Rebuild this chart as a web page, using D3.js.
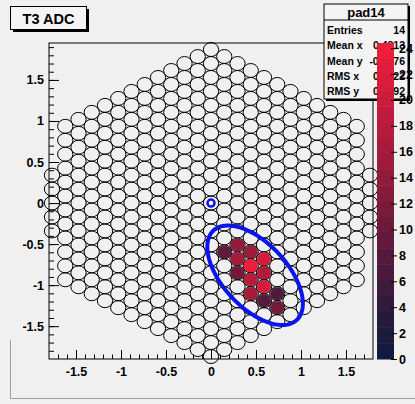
<!DOCTYPE html>
<html>
<head>
<meta charset="utf-8">
<script src="https://cdn.jsdelivr.net/npm/d3@7"></script>
<style>
body { margin: 0; background: #f0f0f0; }
text { font-family: "Liberation Sans", Arial, sans-serif; font-weight: bold; }
</style>
</head>
<body>
<div id="chart-area"></div>
<script>
// camera geometry: half height (in pixel pitches) of each column, columns -12..12
var columnHalfHeight = [2, 5.5, 6, 6.5, 7, 7.5, 8, 8.5, 9, 9.5, 10, 10.5, 11,
                        10.5, 10, 9.5, 9, 8.5, 8, 7.5, 7, 6.5, 6, 5.5, 2];
var pitch = 0.17;

// hit pixels: column index, row (in pitches), ADC value
var hitCol = [2, 1, 2, 3, 4, 3, 2, 4, 3, 4, 3, 4, 5, 5];
var hitRow = [-3, -3.5, -4, -3.5, -4, -4.5, -5, -5, -5.5, -6, -6.5, -7, -6.5, -7.5];
var hitAdc = [14, 9, 16, 15, 21, 24, 11, 17, 18, 21, 16, 8, 7, 11];

// hillas ellipse
var ellCenter = [0.49, -0.88];
var ellLength = 0.716;
var ellWidth = 0.37;
var ellAngle = -51.6;

var xTicks = [-1.5, -1, -0.5, 0, 0.5, 1, 1.5];
var yTicks = [-1.5, -1, -0.5, 0, 0.5, 1, 1.5];
var zTicks = [0, 2, 4, 6, 8, 10, 12, 14, 16, 18, 20, 22, 24];
var paletteColors = ["#0d1a3e", "#2a1a3c", "#4c1a3b", "#6e1a3b", "#901b3b", "#b21b3c", "#d41c3c", "#f21d3c"];

var statNames = ["Entries", "Mean x", "Mean y", "RMS x", "RMS y"];
var statValues = ["14", "0.4813", "-0.9376", "0.1522", "0.2092"];

var W = 415, H = 404;
var frame = {left: 49, right: 373, top: 43, bottom: 359};

var svg = d3.select('#chart-area')
    .append('svg')
    .attr('width', W)
    .attr('height', H);

svg.append('rect').attr('width', W).attr('height', H).attr('fill', '#f0f0f0');

var x = d3.scaleLinear().domain([-1.8, 1.8]).range([frame.left, frame.right]);
var y = d3.scaleLinear().domain([-1.9, 1.95]).range([frame.bottom, frame.top]);
var z = d3.scaleLinear().domain([0, 24.4]).range([frame.bottom, frame.top]);
var color = d3.scaleLinear()
    .domain(d3.range(paletteColors.length).map((i) => 24.4 * i / (paletteColors.length - 1)))
    .range(paletteColors);

// pixel list
var pixels = [];
columnHalfHeight.forEach((h, k) => {
    var col = k - 12;
    for (var r = -h; r <= h + 1e-9; r += 1) {
        pixels.push({col: col, row: r});
    }
});
var dx = pitch * Math.sqrt(3) / 2;
var rad = pitch / 2;

var g = svg.append('g');

g.selectAll('ellipse.pix').data(pixels).enter()
    .append('ellipse')
    .attr('class', 'pix')
    .attr('cx', (d) => x(d.col * dx))
    .attr('cy', (d) => y(d.row * pitch))
    .attr('rx', x(rad) - x(0))
    .attr('ry', y(0) - y(rad))
    .attr('fill', 'none')
    .attr('stroke', '#000')
    .attr('stroke-width', 1);

var hits = hitCol.map((c, i) => ({col: c, row: hitRow[i], adc: hitAdc[i]}));
g.selectAll('ellipse.hit').data(hits).enter()
    .append('ellipse')
    .attr('class', 'hit')
    .attr('cx', (d) => x(d.col * dx))
    .attr('cy', (d) => y(d.row * pitch))
    .attr('rx', x(rad) - x(0) - 0.5)
    .attr('ry', y(0) - y(rad) - 0.5)
    .attr('fill', (d) => color(d.adc))
    .attr('stroke', 'none');

// ellipse
var a = ellAngle * Math.PI / 180;
var pts = d3.range(0, 361, 3).map((t) => {
    var tt = t * Math.PI / 180;
    var u = ellLength * Math.cos(tt), v = ellWidth * Math.sin(tt);
    return [ellCenter[0] + u * Math.cos(a) - v * Math.sin(a),
            ellCenter[1] + u * Math.sin(a) + v * Math.cos(a)];
});
g.append('path')
    .attr('d', d3.line().x((d) => x(d[0])).y((d) => y(d[1]))(pts))
    .attr('fill', 'none')
    .attr('stroke', '#0a14f0')
    .attr('stroke-width', 4);

g.append('circle')
    .attr('cx', x(0)).attr('cy', y(0)).attr('r', 3.5)
    .attr('fill', '#fff')
    .attr('stroke', '#0a14f0')
    .attr('stroke-width', 2.5);

// frame
svg.append('rect')
    .attr('x', frame.left).attr('y', frame.top)
    .attr('width', frame.right - frame.left).attr('height', frame.bottom - frame.top)
    .attr('fill', 'none').attr('stroke', '#000');

// axes
svg.append('g')
    .attr('transform', 'translate(0,' + frame.bottom + ')')
    .call(d3.axisBottom(x).tickValues(xTicks).tickSize(-9).tickSizeOuter(0).tickPadding(8)
        .tickFormat((d) => d));
svg.append('g')
    .attr('transform', 'translate(0,' + frame.bottom + ')')
    .call(d3.axisBottom(x).tickValues(d3.range(-17, 18).map((d) => d / 10)).tickSize(-4.5).tickSizeOuter(0).tickFormat(''));

svg.append('g')
    .attr('transform', 'translate(' + frame.left + ',0)')
    .call(d3.axisLeft(y).tickValues(yTicks).tickSize(-10).tickSizeOuter(0).tickPadding(5)
        .tickFormat((d) => d));
svg.append('g')
    .attr('transform', 'translate(' + frame.left + ',0)')
    .call(d3.axisLeft(y).tickValues(d3.range(-18, 20).map((d) => d / 10)).tickSize(-5).tickSizeOuter(0).tickFormat(''));

svg.selectAll('.domain').remove();
svg.selectAll('.tick line').attr('stroke', '#000');
svg.selectAll('.tick text').attr('font-size', '12.5px').attr('fill', '#000');

// stats box
var sb = {x: 324, y: 4, w: 84, h: 95};
svg.append('rect').attr('x', sb.x + 2).attr('y', sb.y + 2).attr('width', sb.w).attr('height', sb.h).attr('fill', '#000');
svg.append('rect').attr('x', sb.x).attr('y', sb.y).attr('width', sb.w).attr('height', sb.h)
    .attr('fill', '#f4f4f4').attr('stroke', '#000');
svg.append('line').attr('x1', sb.x).attr('x2', sb.x + sb.w).attr('y1', 20).attr('y2', 20).attr('stroke', '#000');
svg.append('text').attr('x', sb.x + sb.w / 2).attr('y', 17).attr('text-anchor', 'middle')
    .attr('font-size', '13px').text('pad14');
statNames.forEach((n, i) => {
    svg.append('text').attr('x', sb.x + 3).attr('y', 34 + i * 15.3).attr('font-size', '10.5px').text(n);
    svg.append('text').attr('x', sb.x + sb.w - 3).attr('y', 34 + i * 15.3).attr('text-anchor', 'end')
        .attr('font-size', '10.5px').text(statValues[i]);
});

// palette
var nb = 20;
var bands = d3.range(nb).map((i) => 24.4 * i / nb);
svg.selectAll('rect.pal').data(bands).enter()
    .append('rect')
    .attr('class', 'pal')
    .attr('x', 377).attr('width', 17)
    .attr('y', (d) => z(d + 24.4 / nb))
    .attr('height', (d) => z(d) - z(d + 24.4 / nb) + 0.5)
    .attr('fill', (d) => color(d + 24.4 / nb / 2));
svg.append('g')
    .attr('transform', 'translate(394,0)')
    .call(d3.axisRight(z).tickValues(zTicks).tickSize(3).tickSizeOuter(0).tickPadding(2))
    .call((s) => s.select('.domain').remove())
    .call((s) => s.selectAll('line').attr('transform', 'translate(-3,0)').attr('x2', 6).attr('stroke', '#000'))
    .call((s) => s.selectAll('text').attr('font-size', '12.5px').attr('fill', '#000'));

// title box
svg.append('rect').attr('x', 13).attr('y', 9).attr('width', 76).attr('height', 23).attr('fill', '#000');
svg.append('rect').attr('x', 10.5).attr('y', 6.5).attr('width', 76).attr('height', 23)
    .attr('fill', '#f4f4f4').attr('stroke', '#000');
svg.append('text').attr('x', 48.5).attr('y', 23.5).attr('text-anchor', 'middle')
    .attr('font-size', '14.5px').text('T3 ADC');

// pad border
svg.append('line').attr('x1', 10).attr('x2', 415).attr('y1', 398.5).attr('y2', 398.5).attr('stroke', '#a0a0a0');
svg.append('line').attr('x1', 10.5).attr('x2', 10.5).attr('y1', 340).attr('y2', 398.5).attr('stroke', '#a0a0a0');
</script>
</body>
</html>
